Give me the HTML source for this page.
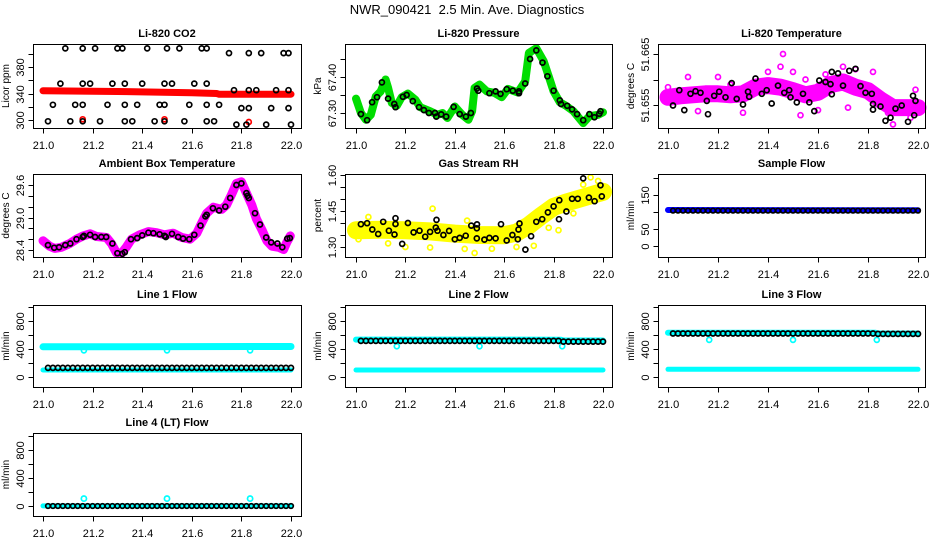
<!DOCTYPE html>
<html><head><meta charset="utf-8"><title>NWR_090421 Diagnostics</title>
<style>
html,body{margin:0;padding:0;background:#fff;}
svg{display:block;font-family:"Liberation Sans",Arial,sans-serif;}
</style></head>
<body>
<svg id="chart" width="936" height="540" viewBox="0 0 936 540" xmlns="http://www.w3.org/2000/svg">
<text x="467" y="14" font-size="13" text-anchor="middle">NWR_090421&#160; 2.5 Min. Ave. Diagnostics</text>
</svg>
<script>
// ---------- shared data ----------
const xTicks = [21.0, 21.2, 21.4, 21.6, 21.8, 22.0];
const xTickLabels = ["21.0", "21.2", "21.4", "21.6", "21.8", "22.0"];
const flowTimes = [21.02,21.04,21.06,21.08,21.10,21.12,21.14,21.16,21.18,21.20,21.22,21.24,21.26,21.28,21.30,21.32,21.34,21.36,21.38,21.40,21.42,21.44,21.46,21.48,21.50,21.52,21.54,21.56,21.58,21.60,21.62,21.64,21.66,21.68,21.70,21.72,21.74,21.76,21.78,21.80,21.82,21.84,21.86,21.88,21.90,21.92,21.94,21.96,21.98,22.00];

// CO2
const co2BandX = [21.0, 21.3, 21.6, 21.7, 21.71, 22.0];
const co2BandY = [344, 343, 341, 340, 339, 339];
const co2PtsX = [21.09,21.16,21.21,21.30,21.32,21.42,21.50,21.55,21.64,21.66,21.75,21.83,21.88,21.97,21.99,
 21.07,21.16,21.19,21.28,21.33,21.40,21.49,21.52,21.61,21.66,21.77,21.83,21.86,21.94,21.99,
 21.04,21.13,21.16,21.26,21.33,21.38,21.47,21.49,21.59,21.66,21.71,21.80,21.83,21.92,21.99,
 21.02,21.11,21.16,21.23,21.33,21.36,21.45,21.49,21.57,21.66,21.69,21.78,21.82,21.90,22.0];
const co2PtsY = [408,408,408,408,408,408,408,408,408,408,401,401,401,401,401,
 355,355,355,355,355,355,355,355,355,355,345,345,345,345,345,
 323,323,323,323,323,323,323,323,323,323,323,318,318,318,318,
 298,298,298,298,298,298,298,298,298,298,298,293,293,293,293];
const co2RedX = [21.16, 21.49, 21.83];
const co2RedY = [301, 301, 297];
const co2Ticks = [300,320,340,360,380,400];
const co2TickLabels = ["300","","340","","380",""];

// Pressure
const presBandX = [21.0,21.02,21.04,21.06,21.08,21.10,21.12,21.13,21.145,21.165,21.185,21.21,21.24,21.26,21.30,21.33,21.35,21.37,21.40,21.43,21.455,21.47,21.48,21.50,21.53,21.56,21.59,21.615,21.655,21.685,21.70,21.73,21.76,21.78,21.80,21.825,21.85,21.88,21.92,21.945,21.98,22.0];
const presBandY = [67.340,67.300,67.281,67.295,67.346,67.360,67.393,67.370,67.328,67.320,67.344,67.354,67.337,67.316,67.305,67.295,67.300,67.286,67.318,67.295,67.281,67.305,67.370,67.379,67.360,67.356,67.344,67.367,67.357,67.388,67.467,67.480,67.444,67.402,67.360,67.330,67.320,67.305,67.272,67.291,67.295,67.302];
const presPtsX = [21.02,21.045,21.065,21.085,21.105,21.13,21.155,21.16,21.19,21.205,21.23,21.255,21.275,21.295,21.32,21.325,21.345,21.365,21.395,21.42,21.445,21.465,21.49,21.495,21.54,21.565,21.585,21.61,21.635,21.66,21.66,21.685,21.705,21.73,21.755,21.775,21.80,21.825,21.83,21.855,21.875,21.895,21.92,21.945,21.965,21.985,21.99];
const presPtsY = [67.297,67.280,67.330,67.344,67.385,67.340,67.325,67.316,67.345,67.350,67.333,67.316,67.308,67.300,67.300,67.290,67.296,67.290,67.317,67.297,67.290,67.300,67.368,67.362,67.355,67.360,67.353,67.366,67.362,67.360,67.355,67.382,67.450,67.474,67.440,67.402,67.362,67.335,67.325,67.320,67.310,67.297,67.280,67.297,67.288,67.298,67.305];
const presTicks = [67.30,67.35,67.40,67.45];
const presTickLabels = ["67.30","","67.40",""];

// Li-820 temperature
const ltBandX = [21.0,21.05,21.1,21.15,21.2,21.25,21.3,21.35,21.4,21.45,21.5,21.55,21.6,21.65,21.7,21.75,21.8,21.85,21.9,21.95,22.0];
const ltBandY = [51.6565,51.6568,51.6570,51.6572,51.6572,51.6570,51.6572,51.6585,51.6588,51.6585,51.6578,51.6570,51.6575,51.6590,51.6595,51.6585,51.6578,51.6560,51.6545,51.6545,51.6545];
const ltMagX = [21.0,21.08,21.12,21.2,21.25,21.3,21.4,21.45,21.46,21.5,21.53,21.55,21.6,21.63,21.7,21.72,21.75,21.82,21.88,21.9,21.97,21.99];
const ltMagY = [51.6585,51.6605,51.6538,51.6605,51.6590,51.6535,51.6615,51.6625,51.6650,51.6615,51.6530,51.6600,51.6540,51.6610,51.6625,51.6545,51.6620,51.6615,51.6535,51.6512,51.6525,51.6580];
const ltPtsX = [21.02,21.045,21.065,21.09,21.11,21.13,21.155,21.16,21.185,21.205,21.23,21.255,21.275,21.30,21.32,21.325,21.35,21.375,21.395,21.415,21.44,21.465,21.485,21.49,21.515,21.54,21.565,21.585,21.605,21.63,21.65,21.655,21.655,21.68,21.70,21.725,21.75,21.77,21.79,21.815,21.82,21.82,21.85,21.87,21.89,21.91,21.935,21.96,21.98,21.985,21.99];
const ltPtsY = [51.6549,51.6579,51.6540,51.6572,51.6577,51.6574,51.6558,51.6532,51.6568,51.6576,51.6565,51.6593,51.6562,51.6551,51.6576,51.6566,51.6602,51.6572,51.6579,51.6553,51.6588,51.6574,51.6579,51.6565,51.6555,51.6572,51.6555,51.6538,51.6598,51.6595,51.6591,51.6571,51.6615,51.6612,51.6588,51.6617,51.6621,51.6587,51.6574,51.6572,51.6552,51.6541,51.6547,51.6519,51.6525,51.6543,51.6549,51.6517,51.6568,51.6530,51.6558];
const ltTicks = [51.655,51.660,51.665];
const ltTickLabels = ["51.655","","51.665"];

// Ambient box temperature
const ambBandX = [21.0,21.027,21.047,21.074,21.108,21.135,21.162,21.19,21.216,21.256,21.276,21.296,21.317,21.337,21.357,21.39,21.425,21.458,21.49,21.525,21.56,21.593,21.62,21.64,21.66,21.687,21.72,21.74,21.76,21.78,21.80,21.82,21.842,21.86,21.883,21.903,21.923,21.95,21.97,21.984,21.997];
const ambBandY = [28.57,28.47,28.43,28.45,28.52,28.60,28.66,28.70,28.65,28.63,28.52,28.35,28.34,28.46,28.60,28.68,28.74,28.72,28.68,28.71,28.63,28.60,28.71,28.90,29.08,29.19,29.15,29.23,29.42,29.63,29.66,29.45,29.23,28.98,28.77,28.57,28.47,28.45,28.41,28.55,28.66];
const ambPtsX = [21.02,21.045,21.065,21.09,21.11,21.135,21.16,21.165,21.19,21.21,21.235,21.255,21.28,21.30,21.32,21.33,21.355,21.38,21.40,21.425,21.445,21.47,21.49,21.495,21.52,21.545,21.565,21.59,21.61,21.635,21.655,21.66,21.685,21.71,21.735,21.755,21.78,21.80,21.82,21.825,21.83,21.855,21.875,21.90,21.92,21.945,21.965,21.985,21.995];
const ambPtsY = [28.49,28.44,28.45,28.49,28.52,28.60,28.64,28.66,28.68,28.64,28.64,28.64,28.52,28.34,28.33,28.36,28.60,28.62,28.67,28.72,28.71,28.69,28.66,28.64,28.70,28.64,28.61,28.60,28.68,28.85,29.02,29.05,29.17,29.13,29.20,29.36,29.60,29.63,29.45,29.40,29.36,29.08,28.87,28.63,28.54,28.52,28.45,28.61,28.62];
const ambTicks = [28.4,28.6,28.8,29.0,29.2,29.4,29.6];
const ambTickLabels = ["28.4","","","29.0","","","29.6"];

// Gas stream RH
const rhBandX = [21.0,21.1,21.2,21.3,21.4,21.5,21.6,21.65,21.7,21.75,21.8,21.85,21.9,21.95,22.0];
const rhBandY = [1.370,1.372,1.370,1.365,1.356,1.350,1.349,1.360,1.390,1.430,1.467,1.485,1.500,1.515,1.530];
const rhYelX = [21.01,21.05,21.13,21.2,21.3,21.31,21.44,21.45,21.48,21.55,21.65,21.72,21.78,21.82,21.88,21.92,21.95,21.98];
const rhYelY = [1.332,1.425,1.315,1.300,1.298,1.460,1.292,1.410,1.275,1.293,1.300,1.305,1.380,1.370,1.440,1.560,1.590,1.575];
const rhPtsX = [21.02,21.045,21.066,21.09,21.11,21.133,21.156,21.16,21.16,21.187,21.21,21.233,21.257,21.28,21.30,21.323,21.326,21.33,21.354,21.377,21.40,21.42,21.444,21.467,21.489,21.49,21.489,21.52,21.54,21.565,21.587,21.61,21.633,21.655,21.658,21.662,21.686,21.709,21.73,21.754,21.777,21.80,21.822,21.823,21.852,21.875,21.898,21.92,21.943,21.966,21.99,21.995];
const rhPtsY = [1.395,1.399,1.373,1.354,1.405,1.368,1.352,1.420,1.396,1.313,1.400,1.361,1.368,1.343,1.363,1.381,1.413,1.368,1.350,1.367,1.332,1.338,1.347,1.389,1.378,1.394,1.336,1.331,1.338,1.336,1.395,1.327,1.350,1.332,1.373,1.398,1.289,1.345,1.405,1.416,1.444,1.469,1.416,1.495,1.448,1.501,1.501,1.586,1.506,1.491,1.557,1.511];
const rhTicks = [1.30,1.35,1.40,1.45,1.50,1.55,1.60];
const rhTickLabels = ["1.30","","","1.45","","","1.60"];

// Sample flow
const sfBandX = [21.0, 22.0];
const sfBandY = [106, 105];
const sfBlack = [104,104,104,104,104,104,104,104,104,104,104,104,104,104,104,104,104,104,104,104,104,104,104,104,104,104,104,104,104,104,104,104,104,104,104,104,104,104,104,104,104,104,104,104,104,104,104,104,104,104];
const sfTicks = [0,50,100,150,200];
const sfTickLabels = ["0","50","","150",""];

// Line flows
const flowTicks = [0,200,400,600,800,1000];
const flowTickLabels = ["0","","400","","800",""];
const outlierX = [21.165, 21.50, 21.835];
const l1TopX = [21.0, 22.0];      const l1TopY = [432, 436];
const l1BotX = [21.0, 22.0];      const l1BotY = [100, 100];
const l1OutY = [380, 380, 380];
const l1Black = [130,130,130,130,130,130,130,130,130,130,130,130,130,130,130,130,130,130,130,130,130,130,130,130,130,130,130,130,130,130,130,130,130,130,130,130,130,130,130,130,130,130,130,130,130,130,130,130,130,130];
const l2TopX = [21.0, 21.83, 21.84, 22.0]; const l2TopY = [535, 533, 522, 522];
const l2BotX = [21.0, 22.0];      const l2BotY = [100, 100];
const l2OutY = [438, 438, 438];
const l2Black = [515,515,515,515,515,515,515,515,515,515,515,515,515,515,515,515,515,515,515,515,515,515,515,515,515,515,515,515,515,515,515,515,515,515,515,515,515,515,515,515,515,505,505,505,505,505,505,505,505,505];
const l3TopX = [21.0, 21.83, 21.84, 22.0]; const l3TopY = [632, 632, 622, 622];
const l3BotX = [21.0, 22.0];      const l3BotY = [110, 110];
const l3OutY = [530, 530, 530];
const l3Black = [622,622,622,622,622,622,622,622,622,622,622,622,622,622,622,622,622,622,622,622,622,622,622,622,622,622,622,622,622,622,622,622,622,622,622,622,622,622,622,622,622,615,615,615,615,615,615,615,615,615];
const l4BandX = [21.0, 22.0];     const l4BandY = [2, 2];
const l4OutY = [106, 106, 106];
const l4Black = [0,0,0,0,0,0,0,0,0,0,0,0,0,0,0,0,0,0,0,0,0,0,0,0,0,0,0,0,0,0,0,0,0,0,0,0,0,0,0,0,0,0,0,0,0,0,0,0,0,0];

// ---------- rendering ----------
const NS = "http://www.w3.org/2000/svg";
const svg = document.getElementById("chart");
function mk(tag, parent, attrs) {
  const e = document.createElementNS(NS, tag);
  for (const k in attrs) e.setAttribute(k, attrs[k]);
  parent.appendChild(e);
  return e;
}
const cols = [{l:33,r:301,x0:43,x1:291},{l:345,r:612,x0:356,x1:603},{l:658,r:925,x0:668,x1:918}];
const rows = [{t:44,b:128},{t:174,b:257},{t:305,b:387},{t:433,b:516}];

function panel(name, title, ylab, c, r, yMap, ticks, tickLabels) {
  const C = cols[c], R = rows[r];
  const g = mk("g", svg, {});
  
  
  const xs = v => C.x0 + (v - 21) * (C.x1 - C.x0);
  const ys = v => yMap.p0 + (v - yMap.v0) / (yMap.v1 - yMap.v0) * (yMap.p1 - yMap.p0);
  const t = mk("text", g, {x:(C.l+C.r)/2, y:R.t-7, "font-size":11, "font-weight":"bold", "text-anchor":"middle"});
  t.textContent = title;
  
  
  const yl = mk("text", g, {transform:`translate(${C.l-24},${(R.t+R.b)/2}) rotate(-90)`, "font-size":10, "text-anchor":"middle"});
  yl.textContent = ylab;
  
  
  const plot = mk("g", g, {});
  
  
  const box = mk("rect", g, {x:C.l+0.5, y:R.t+0.5, width:C.r-C.l, height:R.b-R.t, fill:"none", stroke:"#000", "stroke-width":1});
  
  
  const xa = mk("g", g, {});
  
  
  xTicks.forEach((v, i) => {
    const px = Math.round(xs(v)) + 0.5;
    mk("line", xa, {x1:px, x2:px, y1:R.b+0.5, y2:R.b+5.5, stroke:"#000"});
    const tl = mk("text", xa, {x:px, y:R.b+21, "font-size":11, "text-anchor":"middle"});
    tl.textContent = xTickLabels[i];
    
    
  });
  const ya = mk("g", g, {});
  
  
  ticks.forEach((v, i) => {
    const py = Math.round(ys(v)) + 0.5;
    mk("line", ya, {x1:C.l-4.5, x2:C.l+0.5, y1:py, y2:py, stroke:"#000"});
    if (tickLabels[i]) {
      const tl = mk("text", ya, {transform:`translate(${C.l-9},${py}) rotate(-90)`, "font-size":11, "text-anchor":"middle"});
      tl.textContent = tickLabels[i];
      
      
    }
  });
  return {plot, xs, ys, C, R};
}
function band(P, X, Y, color, w, nm) {
  const pts = X.map((x, i) => P.xs(x).toFixed(1) + "," + P.ys(Y[i]).toFixed(1)).join(" ");
  const pl = mk("polyline", P.plot, {points:pts, fill:"none", stroke:color, "stroke-width":w, "stroke-linejoin":"round", "stroke-linecap":"round"});
  
  
}
function points(P, X, Y, color, nm, rad, sw) {
  const g = mk("g", P.plot, {fill:"none", stroke:color, "stroke-width":sw || 1.7});
  
  
  X.forEach((x, i) => {
    const c = mk("circle", g, {cx:P.xs(x).toFixed(1), cy:P.ys(Y[i]).toFixed(1), r:rad || 2.5});
    
    
  });
}

// CO2
let P = panel("co2", "Li-820 CO2", "Licor ppm", 0, 0, {v0:300, p0:120, v1:380, p1:67}, co2Ticks, co2TickLabels);
band(P, co2BandX, co2BandY, "#ff0000", 7, "co2-red-series");
points(P, co2RedX, co2RedY, "#ff0000", "co2-red-outliers");
points(P, co2PtsX, co2PtsY, "#000", "co2-black-series");

// Pressure
P = panel("pressure", "Li-820 Pressure", "kPa", 1, 0, {v0:67.30, p0:113, v1:67.40, p1:77}, presTicks, presTickLabels);
band(P, presBandX, presBandY, "#00dd00", 8, "pressure-green-series");
points(P, presPtsX, presPtsY, "#000", "pressure-black-series");

// Li temp
P = panel("li-temp", "Li-820 Temperature", "degrees C", 2, 0, {v0:51.655, p0:105, v1:51.665, p1:54}, ltTicks, ltTickLabels);
band(P, ltBandX, ltBandY, "#ff00ff", 17, "li-temp-magenta-series");
points(P, ltMagX, ltMagY, "#ff00ff", "li-temp-magenta-outliers");
points(P, ltPtsX, ltPtsY, "#000", "li-temp-black-series");

// Ambient
P = panel("ambient", "Ambient Box Temperature", "degrees C", 0, 1, {v0:28.4, p0:250, v1:29.6, p1:185}, ambTicks, ambTickLabels);
band(P, ambBandX, ambBandY, "#ff00ff", 9, "ambient-magenta-series");
points(P, ambPtsX, ambPtsY, "#000", "ambient-black-series");

// RH
P = panel("rh", "Gas Stream RH", "percent", 1, 1, {v0:1.30, p0:247, v1:1.60, p1:175}, rhTicks, rhTickLabels);
band(P, rhBandX, rhBandY, "#ffff00", 18, "rh-yellow-series");
points(P, rhYelX, rhYelY, "#ffff00", "rh-yellow-outliers");
points(P, rhPtsX, rhPtsY, "#000", "rh-black-series");

// Sample flow
P = panel("sample-flow", "Sample Flow", "ml/min", 2, 1, {v0:0, p0:246, v1:150, p1:195}, sfTicks, sfTickLabels);
band(P, sfBandX, sfBandY, "#0000ff", 6, "sample-flow-blue-series");
points(P, flowTimes, sfBlack, "#000", "sample-flow-black-series", 2.3);

// Line 1
P = panel("line1", "Line 1 Flow", "ml/min", 0, 2, {v0:0, p0:377, v1:400, p1:349}, flowTicks, flowTickLabels);
band(P, l1TopX, l1TopY, "#00ffff", 7, "line1-cyan-upper");
band(P, l1BotX, l1BotY, "#00ffff", 5, "line1-cyan-lower");
points(P, outlierX, l1OutY, "#00ffff", "line1-cyan-outliers");
points(P, flowTimes, l1Black, "#000", "line1-black-series");

// Line 2
P = panel("line2", "Line 2 Flow", "ml/min", 1, 2, {v0:0, p0:377, v1:400, p1:349}, flowTicks, flowTickLabels);
band(P, l2TopX, l2TopY, "#00ffff", 6, "line2-cyan-upper");
band(P, l2BotX, l2BotY, "#00ffff", 5, "line2-cyan-lower");
points(P, outlierX, l2OutY, "#00ffff", "line2-cyan-outliers");
points(P, flowTimes, l2Black, "#000", "line2-black-series");

// Line 3
P = panel("line3", "Line 3 Flow", "ml/min", 2, 2, {v0:0, p0:377, v1:400, p1:349}, flowTicks, flowTickLabels);
band(P, l3TopX, l3TopY, "#00ffff", 6, "line3-cyan-upper");
band(P, l3BotX, l3BotY, "#00ffff", 5, "line3-cyan-lower");
points(P, outlierX, l3OutY, "#00ffff", "line3-cyan-outliers");
points(P, flowTimes, l3Black, "#000", "line3-black-series");

// Line 4
P = panel("line4", "Line 4 (LT) Flow", "ml/min", 0, 3, {v0:0, p0:506, v1:400, p1:478}, flowTicks, flowTickLabels);
band(P, l4BandX, l4BandY, "#00ffff", 5, "line4-cyan-series");
points(P, outlierX, l4OutY, "#00ffff", "line4-cyan-outliers", 2.6, 1.7);
points(P, flowTimes, l4Black, "#000", "line4-black-series", 2.3);
</script>
</body></html>
